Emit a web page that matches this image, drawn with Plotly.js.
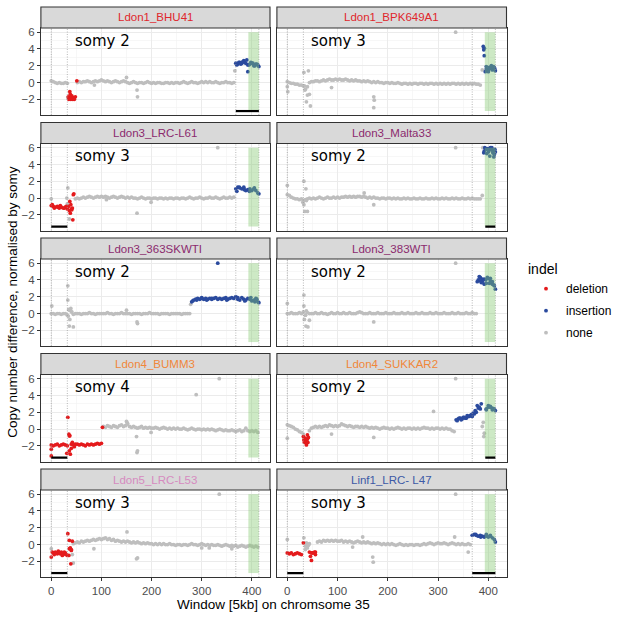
<!DOCTYPE html>
<html><head><meta charset="utf-8">
<script src="https://cdn.plot.ly/plotly-3.0.1.min.js"></script>
<style>html,body{margin:0;padding:0;background:#fff}</style>
</head><body><div id="chart" style="width:617px;height:617px"></div>
<script>
// ---------------- data ----------------
const SAMPLES = ['Ldon1_BHU41','Ldon1_BPK649A1','Ldon3_LRC-L61','Ldon3_Malta33','Ldon3_363SKWTI','Ldon3_383WTI','Ldon4_BUMM3','Ldon4_SUKKAR2','Ldon5_LRC-L53','Linf1_LRC- L47'];
const SPECIES = ['Ldon1','Ldon1','Ldon3','Ldon3','Ldon3','Ldon3','Ldon4','Ldon4','Ldon5','Linf1'];
const SPECIES_COLORS = {Ldon1:'#E0262C', Ldon3:'#8B2A6E', Ldon4:'#F0873A', Ldon5:'#D68BC0', Linf1:'#3D5AA6'};
const SOMY = [2,3,3,2,2,2,4,2,3,3];
const INDEL_NAMES = {d:'deletion', i:'insertion', n:'none'};
const INDEL_COLORS = {d:'#E41A1C', i:'#2A4A9E', n:'#BEBEBE'};

const WINDOWS = [0,4,8,12,16,20,24,28,32,36,40,44,48,
52,56,60,64,68,72,76,80,84,88,92,96,100,
104,108,112,116,120,124,128,132,136,140,144,148,152,
156,160,164,168,172,176,180,184,188,192,196,200,204,
208,212,216,220,224,228,232,236,240,244,248,252,256,
260,264,268,272,276,280,284,288,292,296,300,304,308,
312,316,320,324,328,332,336,340,344,348,352,356,360,
364,368,372,376,380,384,388,392,396,400,404,408,412];

const Y_BHU41 = [0.2,0.1,0.0,-0.1,0.0,-0.1,-0.1,0.0,-0.1,-1.8,-1.9,-1.9,-1.7,
0.0,0.1,0.0,0.1,0.1,0.2,0.1,0.0,0.1,0.2,0.1,0.2,0.3,
0.2,0.1,0.2,0.1,0.0,0.1,0.2,0.1,0.0,0.1,0.2,0.1,0.0,
-0.1,0.0,0.1,0.0,-0.1,0.0,0.0,-0.1,0.0,0.1,0.0,-0.1,0.0,
-0.1,0.0,0.0,-0.1,-0.1,0.0,0.0,-0.1,0.0,-0.1,0.0,0.0,-0.1,
0.0,0.1,0.0,-0.1,0.0,0.1,0.0,0.0,-0.1,0.0,0.1,0.0,0.1,
0.0,0.1,0.0,0.0,0.1,0.0,-0.1,0.0,0.0,0.1,0.0,0.0,-0.1,
0.0,2.3,2.2,2.4,2.3,2.6,2.3,2.1,2.2,2.3,2.0,2.2,2.1];
const C_BHU41 = 'nnnnnnnnndddd|nnnnnnnnnnnnn|nnnnnnnnnnnnn|nnnnnnnnnnnnn|nnnnnnnnnnnnn|nnnnnnnnnnnnn|nnnnnnnnnnnnn|niiiiiiiiiiii';
const X_BHU41 = [[34,-1.7,'d'],[35,-2.0,'d'],[37,-1.1,'d'],[38,-1.4,'d'],[39,-2.0,'d'],[41,-1.6,'d'],[42,-1.8,'d'],[43,-2.0,'d'],[45,-1.8,'d'],[46,-2.0,'d'],[51,0.2,'d'],[33,-1.8,'n'],[86,-0.3,'n'],[150,0.6,'n'],[171,-0.9,'n'],[172,-1.7,'n'],[366,1.4,'n'],[370,2.1,'i'],[374,2.4,'i'],[378,2.2,'i'],[382,2.5,'i'],[386,2.4,'i'],[390,2.7,'i'],[392,1.3,'i'],[394,2.1,'i'],[398,2.4,'i'],[402,2.3,'i'],[406,2.0,'i'],[410,2.2,'i'],[414,1.9,'i']];

const Y_BPK649A1 = [0.1,0.0,-0.1,-0.1,-0.2,-0.2,-0.3,-0.3,-0.4,-0.8,-0.5,0.0,0.1,
0.1,0.2,0.2,0.1,0.2,0.3,0.2,0.3,0.4,0.3,0.3,0.4,0.3,
0.4,0.3,0.3,0.4,0.3,0.2,0.3,0.2,0.3,0.2,0.2,0.1,0.2,
0.1,0.2,0.1,0.0,0.1,0.0,0.1,0.0,0.0,-0.1,0.0,0.0,-0.1,
0.0,-0.1,-0.1,0.0,-0.1,-0.2,-0.1,-0.1,-0.2,-0.1,-0.2,-0.1,-0.1,
-0.2,-0.1,-0.1,-0.2,-0.1,-0.2,-0.1,-0.1,-0.2,-0.1,-0.2,-0.1,-0.2,
-0.1,-0.2,-0.1,-0.2,-0.1,-0.1,-0.2,-0.1,-0.2,-0.1,-0.2,-0.1,-0.2,
-0.1,-0.2,-0.1,-0.2,-0.2,-0.3,1.5,4.1,1.6,1.4,1.7,1.6,1.8];
const C_BPK649A1 = 'nnnnnnnnnnnnn|nnnnnnnnnnnnn|nnnnnnnnnnnnn|nnnnnnnnnnnnn|nnnnnnnnnnnnn|nnnnnnnnnnnnn|nnnnnnnnnnnnn|nnnnnnniiiiii';
const X_BPK649A1 = [[0,-0.5,'n'],[1,-1.1,'n'],[33,1.2,'n'],[42,1.4,'n'],[34,-0.4,'n'],[35,-0.9,'n'],[40,-1.5,'n'],[38,-2.3,'n'],[46,-2.8,'n'],[44,-1.4,'n'],[88,-0.6,'n'],[172,-1.7,'n'],[173,-2.1,'n'],[172,-3.0,'n'],[335,6.0,'n'],[390,4.3,'i'],[391,3.9,'i'],[392,3.2,'i'],[394,1.3,'i'],[396,1.9,'i'],[398,1.5,'i'],[400,1.3,'i'],[402,1.8,'i'],[404,1.7,'i'],[406,2.0,'i'],[408,1.5,'i'],[410,1.9,'i'],[413,1.6,'i'],[414,1.4,'i']];

const Y_LRC_L61 = [-0.9,-1.0,-1.1,-1.0,-1.2,-1.1,-1.2,-1.1,-1.3,-1.5,-1.3,0.4,-0.1,
0.0,-0.1,0.0,0.1,0.0,0.1,0.2,0.1,0.0,0.1,0.2,0.1,0.2,
0.1,0.2,0.1,0.0,0.1,0.2,0.1,0.0,0.1,0.2,0.1,0.0,0.1,
0.0,0.1,0.0,0.0,-0.1,0.0,0.1,0.0,-0.1,0.0,0.0,-0.1,0.0,
0.0,-0.1,0.0,0.0,-0.1,0.0,-0.1,0.0,0.0,-0.1,0.0,0.0,-0.1,
0.0,0.0,-0.1,0.0,0.1,0.0,-0.1,0.0,0.0,0.1,0.0,-0.1,0.0,
0.0,0.1,0.0,0.0,0.1,0.0,-0.1,0.0,0.1,0.0,0.0,0.1,0.0,
0.1,1.1,1.3,1.2,1.1,1.3,0.9,1.0,1.1,0.9,1.1,0.9,0.6];
const C_LRC_L61 = 'ddddddddddddn|nnnnnnnnnnnnn|nnnnnnnnnnnnn|nnnnnnnnnnnnn|nnnnnnnnnnnnn|nnnnnnnnnnnnn|nnnnnnnnnnnnn|niiiiiiiiiiii';
const X_LRC_L61 = [[2,-0.8,'d'],[6,-1.2,'d'],[14,-1.1,'d'],[18,-0.9,'d'],[26,-1.2,'d'],[30,-1.0,'d'],[34,-1.0,'d'],[37,-0.4,'d'],[38,-1.8,'d'],[39,-0.8,'d'],[41,-1.4,'d'],[42,-1.2,'d'],[43,-2.6,'d'],[45,0.5,'d'],[0,-0.1,'n'],[31,0.0,'n'],[32,-0.7,'n'],[33,1.2,'n'],[36,-2.5,'n'],[110,-0.2,'n'],[171,-1.8,'n'],[199,-0.5,'n'],[332,6.0,'n'],[370,0.8,'i'],[375,1.3,'i'],[385,1.0,'i'],[395,0.8,'i'],[405,1.2,'i'],[414,0.5,'i']];

const Y_MALTA33 = [0.4,0.3,0.1,0.0,-0.1,-0.1,-0.2,-0.1,-0.3,-0.2,-0.1,0.0,-0.1,
0.0,-0.1,0.0,0.1,0.0,-0.1,0.0,0.1,0.0,0.0,0.1,0.0,0.1,
0.0,0.1,0.1,0.2,0.1,0.2,0.1,0.2,0.1,0.2,0.2,0.1,0.2,
0.1,0.0,0.1,0.0,0.1,0.0,0.0,-0.1,0.0,0.0,-0.1,0.0,0.0,
-0.1,0.0,-0.1,0.0,-0.1,-0.1,0.0,-0.1,0.0,-0.1,-0.1,0.0,-0.1,
-0.1,0.0,-0.1,-0.1,0.0,-0.1,-0.1,0.0,-0.1,0.0,-0.1,-0.1,0.0,
-0.1,0.0,-0.1,-0.1,0.0,-0.1,0.0,-0.1,-0.1,0.0,-0.1,-0.1,0.0,
-0.1,0.0,-0.1,-0.1,-0.1,-0.1,0.3,5.6,5.9,5.5,6.0,5.7,5.2];
const C_MALTA33 = 'nnnnnnnnnnnnn|nnnnnnnnnnnnn|nnnnnnnnnnnnn|nnnnnnnnnnnnn|nnnnnnnnnnnnn|nnnnnnnnnnnnn|nnnnnnnnnnnnn|nnnnnnniiiiii';
const X_MALTA33 = [[0,1.5,'n'],[31,-0.5,'n'],[33,2.0,'n'],[33,-0.8,'n'],[35,-1.6,'n'],[37,1.1,'n'],[38,-0.3,'n'],[40,-1.6,'n'],[153,0.6,'n'],[172,-0.8,'n'],[335,6.0,'n'],[389,6.0,'n'],[391,5.4,'i'],[393,6.0,'i'],[395,5.8,'i'],[397,5.3,'i'],[399,5.9,'i'],[401,5.6,'i'],[403,5.0,'i'],[405,5.8,'i'],[407,6.0,'i'],[409,5.4,'i'],[411,4.9,'i'],[413,5.8,'i'],[414,5.5,'i']];

const Y_363SKWTI = [0.0,0.0,-0.1,0.0,0.0,-0.1,0.0,0.0,-0.2,0.4,0.2,-0.1,0.0,
0.0,0.0,-0.1,0.0,0.0,0.0,0.1,0.0,0.0,-0.1,0.0,0.0,0.0,
0.0,0.0,0.1,0.0,0.0,-0.1,0.0,0.0,0.0,0.1,0.0,0.0,0.0,
0.0,-0.1,0.0,0.0,0.0,0.0,-0.1,0.0,0.0,0.0,0.1,0.0,0.0,
0.0,0.0,-0.1,0.0,0.0,0.0,0.0,-0.1,0.0,0.0,0.0,0.0,0.0,
-0.1,0.0,0.0,0.0,0.0,1.4,1.6,1.7,1.8,1.7,1.8,1.7,1.8,
1.7,1.8,1.7,1.8,1.9,1.7,1.8,1.7,1.8,1.9,1.7,1.8,1.9,
1.8,2.0,1.7,1.6,1.9,1.7,1.6,1.8,1.7,1.5,1.6,1.8,1.4];
const C_363SKWTI = 'nnnnnnnnnnnnn|nnnnnnnnnnnnn|nnnnnnnnnnnnn|nnnnnnnnnnnnn|nnnnnnnnnnnnn|nnnnniiiiiiii|iiiiiiiiiiiii|iiiiiiiiiiiii';
const X_363SKWTI = [[1,0.9,'n'],[33,3.3,'n'],[33,1.6,'n'],[34,-0.3,'n'],[35,0.5,'n'],[36,-1.5,'n'],[37,-0.7,'n'],[39,0.6,'n'],[41,0.2,'n'],[44,-1.6,'n'],[150,0.4,'n'],[171,-1.0,'n'],[172,-1.2,'n'],[278,1.1,'n'],[282,1.5,'i'],[290,1.6,'i'],[300,1.9,'i'],[310,1.6,'i'],[320,1.8,'i'],[332,6.0,'i'],[350,1.6,'i'],[372,1.9,'i'],[386,1.5,'i'],[398,1.9,'i'],[406,1.4,'i'],[410,1.7,'i'],[414,1.3,'i']];

const Y_383WTI = [0.0,0.0,0.1,0.0,0.0,0.0,0.1,0.0,0.2,-0.2,0.1,0.0,0.0,
0.0,0.1,0.0,0.0,0.1,0.0,0.0,-0.1,0.0,0.1,0.0,0.0,0.1,
0.0,0.0,0.1,0.0,0.0,0.1,0.0,0.0,0.0,0.1,0.2,0.1,0.0,
0.0,0.0,0.1,0.0,0.0,0.0,0.1,0.0,0.0,0.0,0.1,0.0,0.0,
0.0,0.1,0.0,0.0,0.0,0.1,0.0,0.0,0.1,0.0,0.0,0.0,0.1,
0.0,0.0,0.1,0.0,0.0,0.0,0.1,0.0,0.0,0.1,0.0,0.0,0.0,
0.1,0.0,0.0,0.0,0.1,0.0,0.0,0.1,0.0,0.0,0.0,0.1,0.0,
0.0,0.1,0.0,0.0,4.0,4.3,3.8,4.1,3.6,4.2,3.9,3.5,3.3];
const C_383WTI = 'nnnnnnnnnnnnn|nnnnnnnnnnnnn|nnnnnnnnnnnnn|nnnnnnnnnnnnn|nnnnnnnnnnnnn|nnnnnnnnnnnnn|nnnnnnnnnnnnn|nnnniiiiiiiii';
const X_383WTI = [[0,1.2,'n'],[33,2.2,'n'],[33,0.9,'n'],[34,-0.7,'n'],[36,-0.2,'n'],[37,-1.5,'n'],[38,0.3,'n'],[41,-1.6,'n'],[44,-0.8,'n'],[172,-1.0,'n'],[335,6.0,'n'],[378,3.8,'i'],[382,4.4,'i'],[384,3.9,'i'],[386,3.7,'i'],[388,4.1,'i'],[392,3.5,'i'],[395,4.0,'i'],[398,4.3,'i'],[402,3.6,'i'],[404,4.2,'i'],[408,3.8,'i'],[411,3.4,'i'],[414,2.9,'i']];

const Y_BUMM3 = [-1.9,-2.0,-1.9,-1.8,-2.0,-1.9,-1.8,-1.9,-2.0,-0.8,-1.8,-1.9,-1.8,
-1.8,-1.9,-1.8,-1.9,-2.0,-1.8,-1.9,-1.8,-1.9,-1.8,-1.7,-1.8,-1.7,
0.3,0.2,0.4,0.3,0.2,0.4,0.3,0.2,0.4,0.5,0.3,0.4,0.6,
0.3,0.2,0.3,0.2,0.1,0.2,0.3,0.1,0.2,0.1,0.2,0.1,0.1,
0.2,0.1,0.0,0.1,0.2,0.1,0.0,0.1,0.0,0.1,0.0,0.1,0.0,
0.0,0.1,0.0,-0.1,0.0,0.1,0.0,-0.1,0.0,0.0,-0.1,0.0,-0.1,
0.0,-0.1,0.0,-0.1,-0.2,-0.1,0.0,-0.1,-0.2,-0.1,-0.2,-0.2,-0.1,
-0.2,-0.3,-0.2,-0.1,-0.3,-0.2,0.1,-0.2,-0.3,-0.2,-0.3,-0.2,-0.4];
const C_BUMM3 = 'ddddddddddddd|ddddddddddddd|nnnnnnnnnnnnn|nnnnnnnnnnnnn|nnnnnnnnnnnnn|nnnnnnnnnnnnn|nnnnnnnnnnnnn|nnnnnnnnnnnnn';
const X_BUMM3 = [[0,-2.4,'d'],[0,-3.2,'d'],[31,-2.9,'d'],[33,1.4,'d'],[35,-0.6,'d'],[36,-2.6,'d'],[37,-0.8,'d'],[38,-3.0,'d'],[40,-2.3,'d'],[42,-1.6,'d'],[46,-2.1,'d'],[102,0.2,'d'],[150,0.9,'n'],[152,0.7,'n'],[170,-0.9,'n'],[171,-2.8,'n'],[172,-2.6,'n'],[199,-0.4,'n'],[289,4.1,'n'],[335,6.0,'n']];

const Y_SUKKAR2 = [0.5,0.4,0.3,0.2,0.0,-0.1,-0.3,-0.4,-0.6,-1.4,-1.2,-0.2,0.1,
0.2,0.3,0.2,0.3,0.2,0.3,0.4,0.3,0.5,0.4,0.3,0.4,0.3,
0.4,0.6,0.5,0.4,0.3,0.4,0.3,0.2,0.3,0.3,0.2,0.3,0.2,
0.3,0.2,0.1,0.2,0.1,0.2,0.1,0.0,0.1,0.2,0.1,0.1,0.0,
0.1,0.0,0.1,0.2,0.1,0.0,0.1,0.0,0.1,0.1,0.0,0.1,0.0,
0.1,0.0,0.1,0.2,0.1,0.1,0.0,0.1,0.0,0.1,0.1,0.0,0.1,
0.0,0.1,0.0,0.0,-0.2,-0.3,1.1,1.2,1.3,1.2,1.4,1.3,1.5,
1.6,1.5,1.8,2.0,2.5,2.4,0.3,-0.5,2.4,2.6,2.7,2.5,2.4];
const C_SUKKAR2 = 'nnnnnnnnnddnn|nnnnnnnnnnnnn|nnnnnnnnnnnnn|nnnnnnnnnnnnn|nnnnnnnnnnnnn|nnnnnnnnnnnnn|nnnnnniiiiiii|iiiiiinniiiii';
const X_SUKKAR2 = [[0,-1.1,'n'],[32,-0.9,'d'],[33,-1.3,'d'],[34,-1.6,'d'],[35,-1.1,'d'],[37,-1.5,'d'],[38,-1.9,'d'],[39,-1.2,'d'],[40,-0.7,'d'],[41,-1.6,'d'],[42,-1.0,'d'],[88,-0.6,'n'],[172,-1.0,'n'],[291,2.1,'n'],[335,6.0,'n'],[390,0.8,'n'],[391,-0.9,'n'],[338,1.0,'i'],[342,1.3,'i'],[346,1.1,'i'],[350,1.4,'i'],[354,1.3,'i'],[358,1.6,'i'],[362,1.5,'i'],[366,1.7,'i'],[370,1.9,'i'],[374,2.2,'i'],[378,2.8,'i'],[382,2.6,'i'],[386,3.0,'i'],[396,2.3,'i'],[400,2.8,'i'],[404,2.6,'i'],[408,2.3,'i'],[414,2.2,'i']];

const Y_LRC_L53 = [-1.5,-1.0,-0.9,-1.1,-1.0,-0.9,-1.2,-1.0,-1.3,-0.5,-0.6,0.1,0.2,
0.3,0.2,0.4,0.3,0.4,0.5,0.4,0.5,0.6,0.5,0.6,0.7,0.6,
0.7,0.8,0.6,0.7,0.5,0.6,0.4,0.5,0.4,0.3,0.4,0.3,0.4,
0.3,0.2,0.3,0.2,0.3,0.2,0.1,0.2,0.1,0.2,0.1,0.1,0.0,
0.1,0.0,0.1,0.0,0.1,0.0,0.0,0.1,0.0,0.0,-0.1,0.0,0.0,
-0.1,0.0,0.0,-0.1,0.0,0.1,0.0,0.0,-0.1,0.0,0.1,0.0,-0.1,
0.0,-0.1,0.0,-0.1,-0.1,0.0,-0.1,-0.2,-0.1,0.0,-0.1,-0.2,-0.1,
-0.2,-0.1,-0.3,-0.2,-0.1,-0.2,-0.3,-0.2,-0.1,-0.2,-0.3,-0.2,-0.3];
const C_LRC_L53 = 'dddddddddddnn|nnnnnnnnnnnnn|nnnnnnnnnnnnn|nnnnnnnnnnnnn|nnnnnnnnnnnnn|nnnnnnnnnnnnn|nnnnnnnnnnnnn|nnnnnnnnnnnnn';
const X_LRC_L53 = [[0,-0.5,'n'],[2,-0.9,'d'],[6,-1.2,'d'],[10,-1.0,'d'],[14,-0.8,'d'],[18,-1.1,'d'],[22,-1.3,'d'],[26,-0.9,'d'],[30,-1.2,'d'],[33,1.3,'d'],[35,-1.3,'d'],[36,0.5,'d'],[38,-0.4,'d'],[39,-2.3,'d'],[40,-0.7,'d'],[42,0.4,'d'],[42,-1.2,'n'],[44,-2.2,'n'],[85,-0.5,'n'],[151,1.5,'n'],[170,-1.7,'n'],[172,-1.6,'n'],[300,-0.4,'n'],[315,-0.4,'n'],[335,6.0,'n'],[360,-0.5,'n']];

const Y_LRC_L47 = [-1.0,-1.1,-1.0,-1.2,-1.1,-1.0,-1.1,-1.2,0.2,-0.2,0.0,-0.9,-1.0,
-1.0,-0.9,0.3,0.4,0.3,0.5,0.4,0.5,0.4,0.5,0.4,0.5,0.4,
0.4,0.5,0.3,0.4,0.3,0.4,0.3,0.2,0.3,0.4,0.3,0.2,0.3,
0.2,0.3,0.2,0.1,0.2,0.1,0.2,0.1,0.0,0.1,0.0,0.1,0.0,
0.1,0.0,-0.1,0.0,0.1,0.0,-0.1,0.0,-0.1,0.0,0.0,-0.1,0.0,
0.0,-0.1,0.0,0.1,0.0,0.1,0.2,0.1,0.0,0.1,0.2,0.1,0.1,
0.2,0.1,0.0,0.1,0.2,0.1,0.0,0.1,0.0,0.1,0.0,0.0,0.1,
0.0,1.1,1.2,1.1,1.0,1.1,1.0,0.9,1.0,0.9,1.0,0.8,0.6];
const C_LRC_L47 = 'dddddddddnndd|ddnnnnnnnnnnn|nnnnnnnnnnnnn|nnnnnnnnnnnnn|nnnnnnnnnnnnn|nnnnnnnnnnnnn|nnnnnnnnnnnnn|niiiiiiiiiiii';
const X_LRC_L47 = [[0,0.6,'n'],[33,0.8,'n'],[36,-0.6,'n'],[38,0.2,'n'],[40,-0.4,'n'],[42,-0.1,'n'],[44,0.1,'n'],[46,-1.4,'d'],[48,-1.9,'d'],[50,-1.0,'d'],[54,-0.9,'d'],[56,-1.2,'d'],[130,-0.3,'n'],[150,0.9,'n'],[170,-1.5,'n'],[171,-2.1,'n'],[333,0.9,'n'],[335,6.0,'n'],[360,-0.9,'n'],[375,1.2,'i'],[385,0.9,'i'],[396,1.2,'i'],[404,1.1,'i'],[414,0.3,'i']];

const Y_VALUES = [Y_BHU41,Y_BPK649A1,Y_LRC_L61,Y_MALTA33,Y_363SKWTI,Y_383WTI,Y_BUMM3,Y_SUKKAR2,Y_LRC_L53,Y_LRC_L47];
const CLASSES = [C_BHU41,C_BPK649A1,C_LRC_L61,C_MALTA33,C_363SKWTI,C_383WTI,C_BUMM3,C_SUKKAR2,C_LRC_L53,C_LRC_L47];
const EXTRAS = [X_BHU41,X_BPK649A1,X_LRC_L61,X_MALTA33,X_363SKWTI,X_383WTI,X_BUMM3,X_SUKKAR2,X_LRC_L53,X_LRC_L47];

// black bars (window ranges) drawn at the panel bottom
const BARS = [[[368,414]],[],[[0,32]],[[394,414]],[],[],[[0,32]],[[394,414]],[[0,32]],[[0,32],[368,414]]];
const BAR_LEVEL = -3.4;
const BOUNDARIES = [0,32,368,414];
const REGION = [393,414];
const REGION_Y = [-3.4,6.0];
const X_TICKS = [0,100,200,300,400];
const Y_TICKS = [-2,0,2,4,6];

// ---------------- layout geometry (pixels) ----------------
const W = 617, H = 617;
const COL_X = [[41.5,274],[281,514]];
const ROW_STEP = 115.5, STRIP_TOP = 7, PLOT_TOP = 28, PLOT_BOT = 115;
const px = v => v / W, py = v => 1 - v / H;
const FONT = 'Liberation Sans, Arial, sans-serif';

const traces = [], shapes = [], annotations = [];
const layout = {
  width: W, height: H, margin: {l:0, r:0, t:0, b:0},
  paper_bgcolor: '#fff', plot_bgcolor: '#fff',
  font: {family: FONT, size: 11, color: '#000'},
  showlegend: true,
  legend: {x: px(534), y: py(256), xanchor: 'left', yanchor: 'top',
    title: {text: 'indel', font: {size: 14, color: '#000'}},
    font: {size: 12, color: '#000'}, bgcolor: 'rgba(0,0,0,0)',
    itemwidth: 30, tracegroupgap: 3, traceorder: 'grouped'}
};

SAMPLES.forEach((name, p) => {
  const row = Math.floor(p / 2), col = p % 2;
  const sfx = p === 0 ? '' : String(p + 1);
  const xa = 'x' + sfx, ya = 'y' + sfx;
  const top = PLOT_TOP + ROW_STEP * row, bot = PLOT_BOT + ROW_STEP * row;
  const sTop = STRIP_TOP + ROW_STEP * row;
  const [x0, x1] = COL_X[col];

  layout['xaxis' + sfx] = {
    domain: [px(x0), px(x1)], anchor: ya, range: [-20.7, 436.2],
    tickvals: X_TICKS, showticklabels: row === 4, ticks: row === 4 ? 'outside' : '',
    ticklen: 3, tickcolor: '#333', tickwidth: 1,
    tickfont: {family: FONT, size: 11.5, color: '#4D4D4D'},
    showgrid: true, gridcolor: '#EBEBEB', gridwidth: 1,
    minor: {dtick: 50, tick0: 0, showgrid: true, gridcolor: '#F2F2F2', gridwidth: 0.6},
    zeroline: false, showline: true, mirror: true, linecolor: '#333', linewidth: 1, fixedrange: true
  };
  layout['yaxis' + sfx] = {
    domain: [py(bot), py(top)], anchor: xa, range: [-3.87, 6.5],
    tickvals: Y_TICKS, ticktext: Y_TICKS.map(v => v < 0 ? '\u2212' + Math.abs(v) : String(v)),
    showticklabels: col === 0, ticks: col === 0 ? 'outside' : '',
    ticklen: 3, tickcolor: '#333', tickwidth: 1,
    tickfont: {family: FONT, size: 11.5, color: '#4D4D4D'},
    showgrid: true, gridcolor: '#EBEBEB', gridwidth: 1,
    minor: {dtick: 1, tick0: 0, showgrid: true, gridcolor: '#F2F2F2', gridwidth: 0.6},
    zeroline: false, showline: true, mirror: true, linecolor: '#333', linewidth: 1, fixedrange: true
  };

  // points
  const cls = CLASSES[p].replace(/\|/g, '');
  const groups = {d: {x: [], y: []}, i: {x: [], y: []}, n: {x: [], y: []}};
  WINDOWS.forEach((w, k) => { groups[cls[k]].x.push(w); groups[cls[k]].y.push(Y_VALUES[p][k]); });
  EXTRAS[p].forEach(([w, v, c]) => { groups[c].x.push(w); groups[c].y.push(v); });
  ['n', 'd', 'i'].forEach(c => {
    traces.push({
      type: 'scatter', mode: 'markers', x: groups[c].x, y: groups[c].y,
      xaxis: xa, yaxis: ya, name: INDEL_NAMES[c], legendgroup: c,
      legendrank: {d: 1, i: 2, n: 3}[c],
      showlegend: p === 0, hoverinfo: 'skip',
      marker: {color: INDEL_COLORS[c], size: 3.8, line: {width: 0}}
    });
  });

  // dotted boundaries
  BOUNDARIES.forEach(b => shapes.push({type: 'line', xref: xa, yref: ya + ' domain', x0: b, x1: b, y0: 0, y1: 1,
    line: {color: '#9A9A9A', width: 0.7, dash: '1px,1.5px'}, layer: 'above'}));
  // green region
  shapes.push({type: 'rect', xref: xa, yref: ya, x0: REGION[0], x1: REGION[1], y0: REGION_Y[0], y1: REGION_Y[1],
    fillcolor: 'rgba(130,200,110,0.40)', line: {width: 0}, layer: 'above'});
  // black bars
  BARS[p].forEach(([a, b]) => shapes.push({type: 'line', xref: xa, yref: ya, x0: a, x1: b, y0: BAR_LEVEL, y1: BAR_LEVEL,
    line: {color: '#000', width: 2.2}, layer: 'above'}));
  // strip
  shapes.push({type: 'rect', xref: 'paper', yref: 'paper', x0: px(x0), x1: px(x1), y0: py(top), y1: py(sTop),
    fillcolor: '#D9D9D9', line: {color: '#333', width: 1.1}});
  annotations.push({xref: 'paper', yref: 'paper', x: px((x0 + x1) / 2), y: py((sTop + top) / 2),
    text: name, showarrow: false, xanchor: 'center', yanchor: 'middle',
    font: {family: FONT, size: 11.5, color: SPECIES_COLORS[SPECIES[p]]}});
  // somy label
  annotations.push({xref: xa, yref: ya, x: 43, y: 5.0, text: 'somy ' + SOMY[p], showarrow: false,
    xanchor: 'left', yanchor: 'middle', font: {family: 'DejaVu Sans, sans-serif', size: 15, color: '#000'}});
});

annotations.push({xref: 'paper', yref: 'paper', x: px(277.5), y: py(604), text: 'Window [5kb] on chromsome 35',
  showarrow: false, xanchor: 'center', yanchor: 'middle', font: {family: FONT, size: 13.5, color: '#000'}});
annotations.push({xref: 'paper', yref: 'paper', x: px(12), y: py(302), text: 'Copy number difference, normalised by somy',
  showarrow: false, textangle: -90, xanchor: 'center', yanchor: 'middle', font: {family: FONT, size: 13.5, color: '#000'}});

layout.shapes = shapes;
layout.annotations = annotations;

Plotly.newPlot('chart', traces, layout, {staticPlot: true, displayModeBar: false});
</script>
</body></html>
